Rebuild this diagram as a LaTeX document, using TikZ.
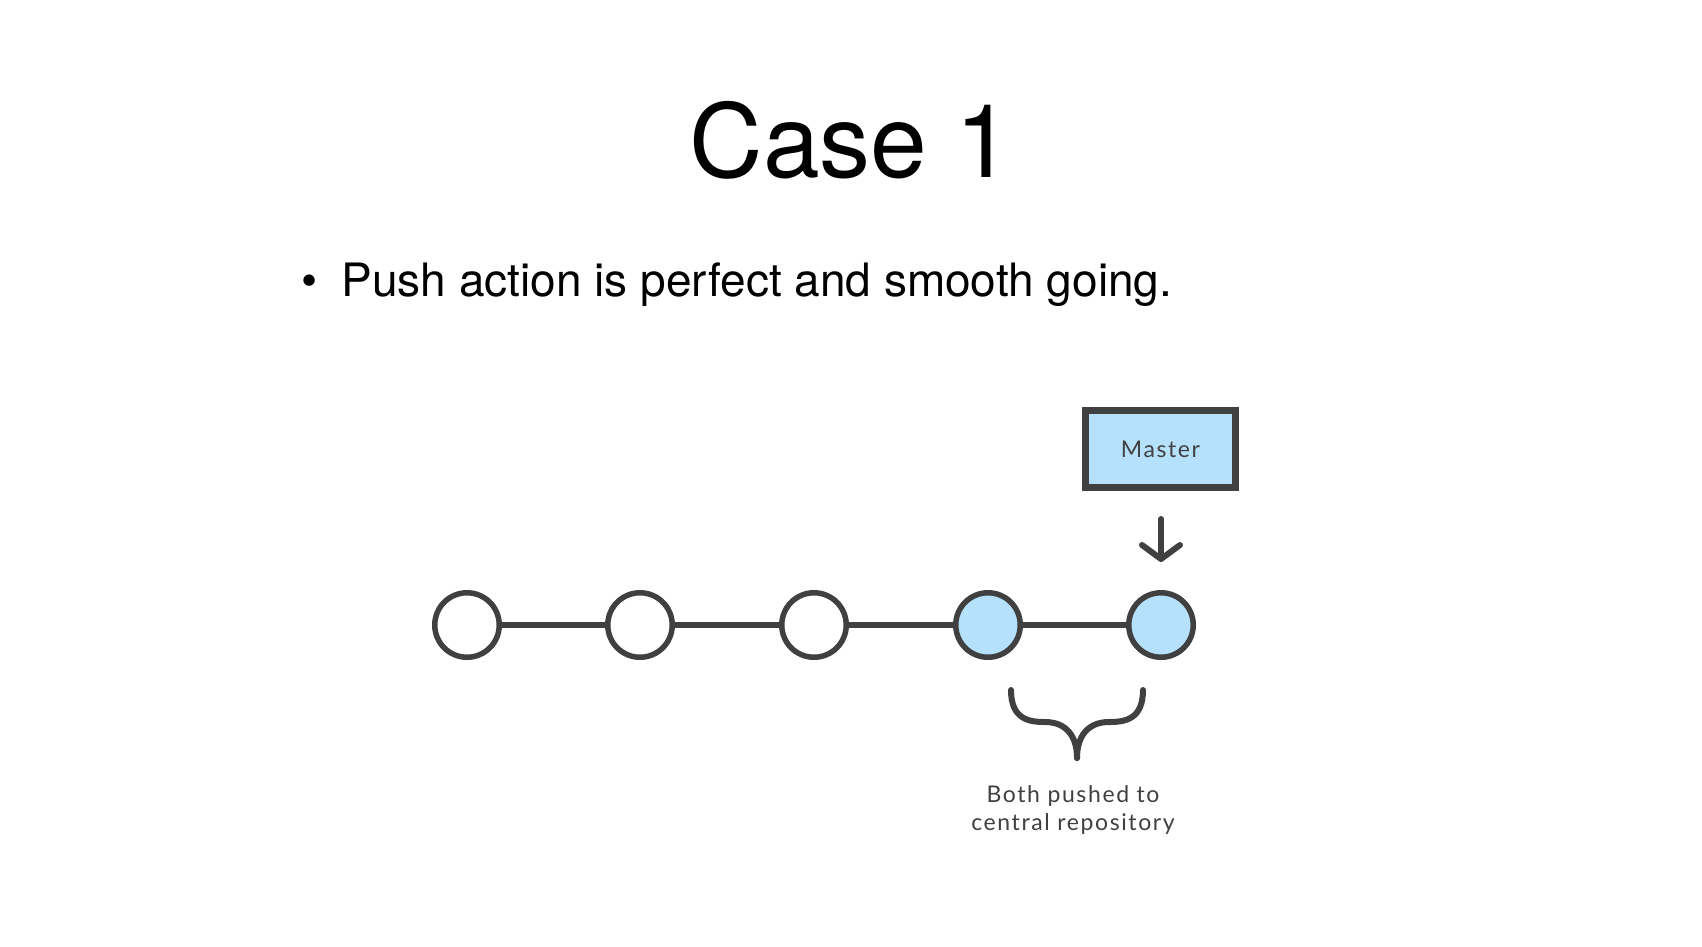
\documentclass[tikz,border=0pt]{standalone}
\usepackage{fontspec}
\setmainfont{TeX Gyre Heros}
\newfontfamily\labelfont[LetterSpace=7]{Lato}
\usetikzlibrary{positioning, arrows.meta}
\definecolor{darkline}{HTML}{404040}
\definecolor{commitblue}{HTML}{B5E1FD}

\begin{document}
\begin{tikzpicture}[x=1pt, y=-1pt,
	commit/.style={circle, draw=darkline, line width=5.5pt, fill=white, minimum size=64.5pt, inner sep=0pt},
	pushed/.style={commit, fill=commitblue},
	link/.style={draw=darkline, line width=5.5pt},
	tag/.style={font=\labelfont\fontsize{23}{28}\selectfont, text=darkline}]
	\useasboundingbox (0, 0) rectangle (1702, 946);
	\node (title) [anchor=base] at (851, 177) {\fontsize{102}{112}\selectfont Case 1};
	\node (bullet) [anchor=base west] at (298, 296) {\fontsize{46}{56}\selectfont •};
	\node (point) [anchor=base west] at (338, 296) {\fontsize{46}{56}\selectfont Push action is perfect and smooth going.};
	\node (c1) [commit] at (467, 625) {};
	\node (c2) [commit] at (640, 625) {};
	\node (c3) [commit] at (814, 625) {};
	\node (c4) [pushed] at (988, 625) {};
	\node (c5) [pushed] at (1161, 625) {};
	\draw[link] (c1) -- (c2);
	\draw[link] (c2) -- (c3);
	\draw[link] (c3) -- (c4);
	\draw[link] (c4) -- (c5);
	\node (master) [draw=darkline, line width=7pt, fill=commitblue, minimum width=150pt, minimum height=77pt, tag] at (1160.5, 449) {Master};
	\coordinate (arrowtop) at (1161, 519);
	\coordinate (arrowtip) at (1161, 562);
	\draw[darkline, line width=6pt, line cap=round, -{Straight Barb[length=14pt, width=38pt, line cap=round, round]}] (arrowtop) -- (arrowtip);
	\draw[darkline, line width=6pt, line cap=round] (1011, 690) .. controls (1011, 720) and (1030, 722) .. (1045, 722) .. controls (1066, 722) and (1077, 736) .. (1077, 758);
	\draw[darkline, line width=6pt, line cap=round] (1143, 690) .. controls (1143, 720) and (1124, 722) .. (1109, 722) .. controls (1088, 722) and (1077, 736) .. (1077, 758);
	\node (pushnote) [tag, align=center] at (1073, 810) {Both pushed to\\central repository};
\end{tikzpicture}
\end{document}
